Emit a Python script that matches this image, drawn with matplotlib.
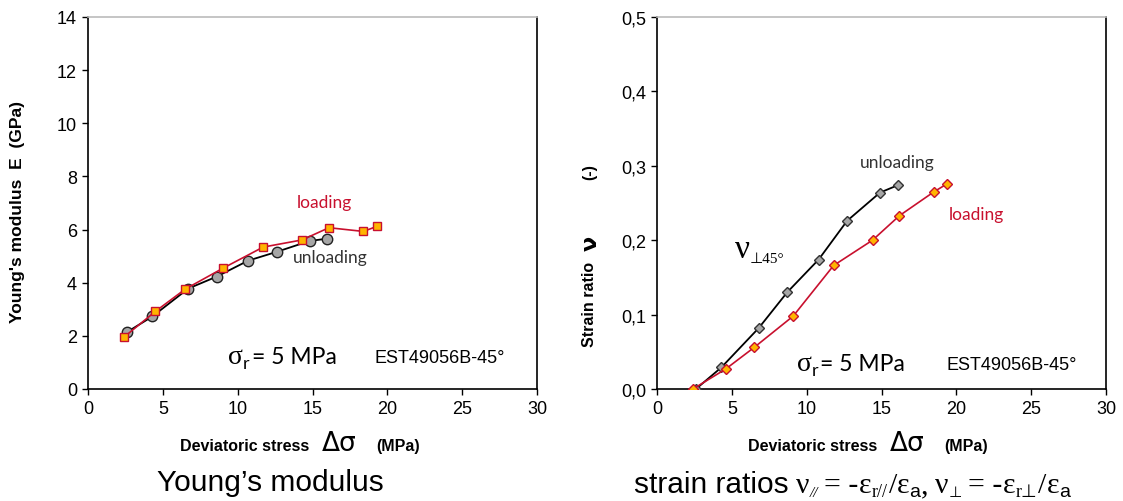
import matplotlib
matplotlib.use("Agg")
import matplotlib.pyplot as plt

# Young's modulus vs deviatoric stress
e_load_x = [2.4, 4.5, 6.5, 9.0, 11.7, 14.3, 16.1, 18.4, 19.3]
e_load_y = [1.95, 2.92, 3.76, 4.54, 5.34, 5.61, 6.07, 5.93, 6.12]
e_unload_x = [2.6, 4.3, 6.7, 8.6, 10.7, 12.6, 14.8, 16.0]
e_unload_y = [2.14, 2.73, 3.78, 4.23, 4.83, 5.16, 5.57, 5.66]

# Strain ratio vs deviatoric stress
nu_load_x = [2.4, 4.6, 6.5, 9.1, 11.8, 14.4, 16.2, 18.5, 19.4]
nu_load_y = [0.0, 0.027, 0.056, 0.098, 0.166, 0.200, 0.233, 0.265, 0.276]
nu_unload_x = [2.6, 4.3, 6.8, 8.7, 10.8, 12.7, 14.9, 16.1]
nu_unload_y = [0.0, 0.029, 0.082, 0.130, 0.174, 0.226, 0.264, 0.274]

x_ticks = [0, 5, 10, 15, 20, 25, 30]
e_ticks = [0, 2, 4, 6, 8, 10, 12, 14]
nu_ticks = [0.0, 0.1, 0.2, 0.3, 0.4, 0.5]
nu_tick_labels = ["0,0", "0,1", "0,2", "0,3", "0,4", "0,5"]

W, H = 1123, 502
fig = plt.figure(figsize=(W / 100, H / 100), dpi=100)

SANS = "Liberation Sans"
SERIF = "Liberation Serif"
CAL = "Lato"
RED = "#C8102E"
ORANGE = "#FFB400"


def style_axes(ax):
    for s in ("left", "bottom", "right"):
        ax.spines[s].set_color("black")
        ax.spines[s].set_linewidth(1.2)
    ax.spines["top"].set_color("#BBBBBB")
    ax.spines["top"].set_linewidth(1.2)
    ax.tick_params(direction="out", length=4, width=1, pad=4,
                   labelsize=13, top=False, right=False)
    for lab in ax.get_xticklabels() + ax.get_yticklabels():
        lab.set_fontfamily(SANS)


ax1 = fig.add_axes([88 / W, 1 - 390 / H, 449 / W, 372 / H])
ax2 = fig.add_axes([657 / W, 1 - 390 / H, 449 / W, 372 / H])

ax1.plot(e_unload_x, e_unload_y, "-o", color="black", lw=1.3, ms=7.5,
         mfc="#A6A6A6", mec="#222222", mew=1.0, zorder=3)
ax1.plot(e_load_x, e_load_y, "-s", color=RED, lw=1.2, ms=6,
         mfc=ORANGE, mec=RED, mew=1.0, zorder=4)
ax1.set_xlim(0, 30)
ax1.set_ylim(0, 14)
ax1.set_xticks(x_ticks)
ax1.set_yticks(e_ticks)
style_axes(ax1)

ax2.plot(nu_unload_x, nu_unload_y, "-D", color="black", lw=1.3, ms=5,
         mfc="#A6A6A6", mec="#333333", mew=1.0, zorder=3)
ax2.plot(nu_load_x, nu_load_y, "-D", color=RED, lw=1.2, ms=5,
         mfc=ORANGE, mec=RED, mew=1.0, zorder=4)
ax2.set_xlim(0, 30)
ax2.set_ylim(0, 0.5)
ax2.set_xticks(x_ticks)
ax2.set_yticks(nu_ticks)
ax2.set_yticklabels(nu_tick_labels)
style_axes(ax2)

renderer = fig.canvas.get_renderer()


def rich(x, y, segs, ha="left"):
    """Lay out text pieces side by side; x, y are pixel coords (top origin, baseline)."""
    items = []
    cur = 0.0
    for text, kw, dy, gap in segs:
        t = fig.text(0, 0, text, va="baseline", ha="left", **kw)
        w = t.get_window_extent(renderer).width
        items.append((t, cur, dy))
        cur += w + gap
    total = cur - segs[-1][3]
    x0 = x - total / 2 if ha == "center" else x
    for t, off, dy in items:
        t.set_position(((x0 + off) / W, (H - y - dy) / H))


bold = dict(family=SANS, fontsize=11.5, fontweight="bold")
greek_big = dict(family="DejaVu Sans", fontsize=19)

# x axis labels
for cx in (300, 868):
    rich(cx, 451, [("Deviatoric stress", bold, 0, 12),
                   ("Δσ", greek_big, 0, 20),
                   ("(MPa)", bold, 0, 0)], ha="center")

# y axis labels
ybold = dict(family=SANS, fontsize=12.5, fontweight="bold")
fig.text(18 / W, 1 - 212 / H, "Young's modulus  E  (GPa)", rotation=90,
         ha="center", va="center", **ybold)
ybold2 = dict(family=SANS, fontsize=11.5, fontweight="bold")
fig.text(590 / W, 1 - 347 / H, "Strain ratio", rotation=90,
         ha="center", va="bottom", **ybold2)
fig.text(591 / W, 1 - 243 / H, "ν", rotation=90,
         ha="center", va="center", family="DejaVu Sans", fontsize=16, fontweight="bold")
fig.text(590 / W, 1 - 172 / H, "(-)", rotation=90,
         ha="center", va="center", **ybold2)

# captions
cap = dict(family=SANS, fontsize=21.5)
fig.text(270 / W, 1 - 491 / H, "Young’s modulus", ha="center", va="baseline", **cap)

ser = dict(family=SERIF, fontsize=21.5)
sub = dict(family=SERIF, fontsize=13)
suba = dict(family=SANS, fontsize=14)
rich(852, 493, [
    ("strain ratios", cap, 0, 7),
    ("ν", ser, 0, 0), ("//", dict(family=SERIF, fontsize=11, style="italic"), 4, 6),
    ("= -", ser, 0, 1),
    ("ε", ser, 0, 0), ("r//", sub, 4, 1), ("/", ser, 0, 0),
    ("ε", ser, 0, 0), ("a", suba, 4, 0), (",", ser, 0, 7),
    ("ν", ser, 0, 0), ("⊥", dict(family="DejaVu Sans", fontsize=11), 4, 6),
    ("= -", ser, 0, 1),
    ("ε", ser, 0, 0), ("r⊥", dict(family=["Liberation Serif", "DejaVu Sans"], fontsize=13), 4, 1),
    ("/", ser, 0, 0),
    ("ε", ser, 0, 0), ("a", suba, 4, 0),
], ha="center")

# annotations, left panel
note = dict(family=CAL, fontsize=12.5)
fig.text(324 / W, 1 - 208 / H, "loading", color=RED, ha="center", va="baseline", **note)
fig.text(330 / W, 1 - 263 / H, "unloading", color="#333333", ha="center", va="baseline", **note)
est = dict(family=SANS, fontsize=13)


def sigma_r(x, y):
    rich(x, y, [("σ", dict(family=SERIF, fontsize=20), 0, 0),
                ("r", dict(family=CAL, fontsize=13), 5, 2),
                ("= 5 MPa", dict(family=CAL, fontsize=16.5), 0, 0)])


sigma_r(228, 364)
fig.text(375 / W, 1 - 363 / H, "EST49056B-45°", ha="left", va="baseline", **est)

# annotations, right panel
fig.text(897 / W, 1 - 168 / H, "unloading", color="#333333", ha="center", va="baseline", **note)
fig.text(976 / W, 1 - 220 / H, "loading", color=RED, ha="center", va="baseline", **note)
rich(735, 258, [("ν", dict(family=SERIF, fontsize=24), 0, 0),
                ("⊥45°", dict(family=["Liberation Serif", "DejaVu Sans"], fontsize=11), 5, 0)])
sigma_r(797, 371)
fig.text(946 / W, 1 - 370 / H, "EST49056B-45°", ha="left", va="baseline", **est)

fig.savefig("out.png", dpi=100)
